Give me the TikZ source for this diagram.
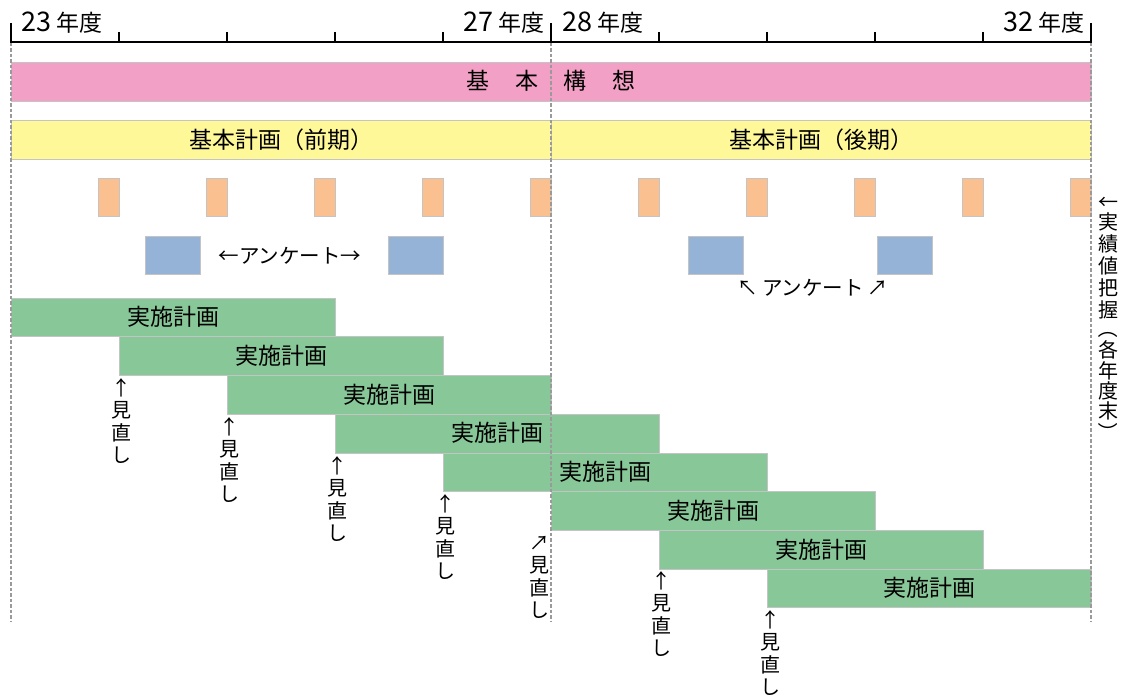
\documentclass[tikz,border=0pt]{standalone}
\usepackage{fontspec}
\setmainfont{Noto Sans CJK JP}
\definecolor{pinkc}{HTML}{F2A0C5}
\definecolor{yelc}{HTML}{FFF899}
\definecolor{orc}{HTML}{FAC090}
\definecolor{bluc}{HTML}{95B3D7}
\definecolor{grc}{HTML}{88C898}
\definecolor{edgec}{HTML}{C4C4C4}
\definecolor{dashc}{HTML}{9A9A9A}
\newcommand\naoshi[4]{%
  \node[jpsm] (#1a) at (#2,#3+13) {#4};
  \node[jpsm] (#1b) at (#2,#3+35) {見};
  \node[jpsm] (#1c) at (#2,#3+58) {直};
  \node[jpsm] (#1d) at (#2,#3+80) {し};}
\begin{document}
\begin{tikzpicture}[x=1pt,y=-1pt,
  jp/.style={font=\fontsize{23}{25}\selectfont, inner sep=0pt, text height=20pt, text depth=3pt},
  jpsm/.style={font=\fontsize{20}{22}\selectfont, inner sep=0pt, text height=17.6pt, text depth=2.4pt},
  jpmid/.style={font=\fontsize{20.5}{22}\selectfont, inner sep=0pt, text height=18pt, text depth=2.5pt},
  axl/.style={font=\fontsize{23}{25}\selectfont, inner sep=0pt},
  box/.style={draw=edgec, line width=0.6pt, inner sep=0pt},
  bar/.style={box, jp, minimum height=38.7pt},
  gbar/.style={bar, fill=grc, minimum width=324pt},
  obox/.style={box, fill=orc, minimum width=21pt, minimum height=38pt},
  bbox/.style={box, fill=bluc, minimum width=55pt, minimum height=38pt},
  guide/.style={draw=dashc, line width=1.6pt, dash pattern=on 3.5pt off 2pt},
  axisline/.style={line width=1.2pt},
  tickmark/.style={line width=2pt}]
\useasboundingbox (0,0) rectangle (1125,695);
\newcommand\dig{\fontsize{27}{27}\selectfont}
% axis
\draw[axisline] (11,42) -- (1091,42);
\foreach \t in {11,551,1091} \draw[tickmark] (\t,23) -- (\t,42.6);
\foreach \t in {119,227,335,443,659,767,875,983} \draw[tickmark] (\t,32) -- (\t,42.6);
\node[axl, anchor=base west] (y23) at (21,32) {{\dig 23} 年度};
\node[axl, anchor=base east] (y27) at (545,32) {{\dig 27} 年度};
\node[axl, anchor=base west] (y28) at (562,32) {{\dig 28} 年度};
\node[axl, anchor=base east] (y32) at (1085,32) {{\dig 32} 年度};
% bars
\node[bar, fill=pinkc, minimum width=1080pt] (kousou) at (551,81.5)
  {基\hspace{25.5pt}本\hspace{25.5pt}構\hspace{25.5pt}想};
\node[bar, fill=yelc, minimum width=540pt] (zenki) at (281,140) {基本計画（前期）};
\node[bar, fill=yelc, minimum width=540pt] (kouki) at (821,140) {基本計画（後期）};
% annual boxes
\foreach \i in {1,...,10} \node[obox] (or\i) at ({11+108*\i-10.5},197) {};
% questionnaire boxes
\node[bbox] (q1) at (172.5,255) {};
\node[bbox] (q2) at (416,255) {};
\node[bbox] (q3) at (715.5,255) {};
\node[bbox] (q4) at (904.5,255) {};
\node[jpmid] (anq1) at (290,256) {←アンケート→};
\node[jpmid] (anq2) at (813,288) {↖\hspace{4pt}アンケート\hspace{4pt}↗};
% implementation plans
\foreach \i in {0,...,7} \node[gbar] (plan\i) at ({173+108*\i},{317.35+38.7*\i}) {実施計画};
% review labels
\naoshi{n1}{121}{375}{↑}
\naoshi{n2}{229}{413.7}{↑}
\naoshi{n3}{337}{452.4}{↑}
\naoshi{n4}{445}{491}{↑}
\naoshi{n5}{539}{529.5}{↗}
\naoshi{n6}{661}{568}{↑}
\naoshi{n7}{770}{607}{↑}
% right vertical text
\foreach \c/\yy [count=\k] in {←/202,実/222,績/244,値/266,把/288,握/310,各/350,年/371,度/391,末/411}
  \node[jpsm] (rv\k) at (1108,\yy) {\c};
\node[jpsm, rotate=-90] (rvpo) at (1108,328) {（};
\node[jpsm, rotate=-90] (rvpc) at (1108,432) {）};
% guides
\draw[guide] (11,43) -- (11,622);
\draw[guide] (551,43) -- (551,622);
\draw[guide] (1091,43) -- (1091,622);
\end{tikzpicture}
\end{document}
